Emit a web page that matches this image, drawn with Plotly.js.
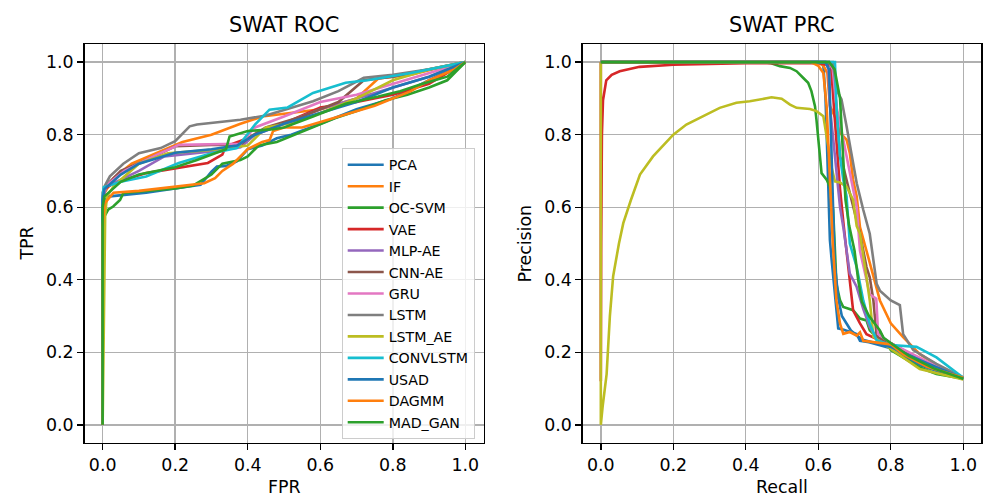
<!DOCTYPE html>
<html>
<head>
<meta charset="utf-8">
<script src="https://cdn.plot.ly/plotly-3.0.1.min.js"></script>
<style>html,body{margin:0;padding:0;background:#fff;}#chart{width:987px;height:497px;}</style>
</head>
<body>
<div id="chart"></div>
<script>
// ---------------- DATA ----------------
const methods = ['PCA','IF','OC-SVM','VAE','MLP-AE','CNN-AE','GRU','LSTM','LSTM_AE','CONVLSTM','USAD','DAGMM','MAD_GAN'];
const tickVals = [0, 0.2, 0.4, 0.6, 0.8, 1.0];
const tickText = ['0.0','0.2','0.4','0.6','0.8','1.0'];

// ROC: false positive rate / true positive rate
const fprPCA = [0,0,0.005,0.02,0.06,0.12,0.2,0.27,0.285,0.3,0.315,0.34,0.37,0.4,0.44,0.48,0.52,0.6,0.7,0.8,0.9,1];
const tprPCA = [0,0.6,0.62,0.63,0.634,0.64,0.652,0.662,0.68,0.698,0.712,0.714,0.726,0.76,0.77,0.79,0.8,0.83,0.87,0.9,0.95,1];
const fprIF = [0,0,0.005,0.03,0.08,0.15,0.22,0.3,0.38,0.44,0.52,0.6,0.7,0.76,0.85,0.93,1];
const tprIF = [0,0.6,0.64,0.68,0.72,0.75,0.78,0.8,0.83,0.85,0.86,0.87,0.9,0.955,0.965,0.985,1];
const fprOCSVM = [0,0,0.005,0.015,0.029,0.048,0.057,0.12,0.2,0.25,0.3,0.33,0.38,0.4,0.43,0.48,0.53,0.58,0.64,0.7,0.78,0.84,0.9,0.95,1];
const tprOCSVM = [0,0.52,0.575,0.593,0.602,0.62,0.639,0.645,0.652,0.66,0.69,0.72,0.73,0.74,0.77,0.78,0.8,0.82,0.845,0.865,0.895,0.91,0.93,0.95,1];
const fprVAE = [0,0,0.005,0.03,0.12,0.21,0.29,0.33,0.34,0.4,0.45,0.52,0.6,0.7,0.8,0.9,1];
const tprVAE = [0,0.62,0.65,0.666,0.694,0.708,0.722,0.745,0.768,0.79,0.814,0.84,0.875,0.89,0.91,0.94,1];
const fprMLPAE = [0,0,0.01,0.1,0.17,0.3,0.38,0.42,0.5,0.6,0.7,0.8,0.9,1];
const tprMLPAE = [0,0.62,0.657,0.7,0.74,0.754,0.765,0.8,0.83,0.87,0.9,0.93,0.96,1];
const fprCNNAE = [0,0,0.01,0.05,0.12,0.2,0.3,0.38,0.4,0.45,0.55,0.65,0.72,0.8,0.9,1];
const tprCNNAE = [0,0.63,0.66,0.7,0.73,0.768,0.772,0.772,0.79,0.82,0.85,0.89,0.95,0.96,0.98,1];
const fprGRU = [0,0,0.01,0.06,0.15,0.21,0.38,0.42,0.5,0.6,0.7,0.8,0.9,1];
const tprGRU = [0,0.63,0.66,0.7,0.745,0.772,0.775,0.82,0.85,0.89,0.91,0.94,0.97,1];
const fprLSTM = [0,0,0.005,0.02,0.057,0.1,0.16,0.2,0.24,0.26,0.38,0.45,0.58,0.65,0.72,0.8,0.9,1];
const tprLSTM = [0,0.64,0.657,0.685,0.72,0.749,0.763,0.782,0.823,0.828,0.841,0.853,0.892,0.92,0.957,0.965,0.98,1];
const fprLSTMAE = [0,0.007,0.012,0.03,0.05,0.1,0.18,0.3,0.4,0.45,0.52,0.6,0.7,0.8,0.9,1];
const tprLSTMAE = [0,0.58,0.63,0.657,0.676,0.72,0.749,0.758,0.77,0.82,0.832,0.86,0.9,0.95,0.98,1];
const fprCONVLSTM = [0,0,0.003,0.05,0.12,0.21,0.3,0.37,0.42,0.46,0.51,0.58,0.67,0.73,0.85,1];
const tprCONVLSTM = [0,0.63,0.655,0.67,0.685,0.722,0.749,0.763,0.828,0.869,0.875,0.915,0.943,0.95,0.97,1];
const fprUSAD = [0,0,0.005,0.05,0.1,0.2,0.3,0.37,0.42,0.5,0.6,0.7,0.8,0.9,1];
const tprUSAD = [0,0.62,0.65,0.69,0.72,0.75,0.76,0.77,0.8,0.83,0.86,0.89,0.93,0.96,1];
const fprDAGMM = [0,0,0.005,0.03,0.1,0.2,0.28,0.31,0.33,0.36,0.4,0.44,0.46,0.47,0.5,0.55,0.65,0.75,0.85,0.9,0.97,1];
const tprDAGMM = [0,0.546,0.61,0.64,0.645,0.657,0.666,0.68,0.7,0.72,0.76,0.78,0.785,0.81,0.82,0.82,0.85,0.88,0.92,0.95,0.98,1];
const fprMADGAN = [0,0,0.005,0.05,0.1,0.2,0.26,0.3,0.34,0.35,0.4,0.47,0.5,0.58,0.67,0.76,0.82,0.88,0.95,1];
const tprMADGAN = [0,0.6,0.63,0.67,0.69,0.71,0.73,0.745,0.76,0.795,0.81,0.815,0.82,0.85,0.885,0.905,0.92,0.94,0.96,1];

// PRC: recall / precision
const recPCA = [0,0.6,0.614,0.62,0.627,0.632,0.637,0.646,0.65,0.655,0.67,0.706,0.715,0.74,0.8,0.88,0.95,1];
const prePCA = [1,1,0.99,0.9,0.676,0.51,0.453,0.361,0.306,0.266,0.262,0.25,0.232,0.228,0.211,0.165,0.14,0.127];
const recIF = [0,0.6,0.614,0.625,0.632,0.65,0.66,0.678,0.687,0.696,0.706,0.715,0.733,0.752,0.77,0.8,0.834,0.88,0.95,1];
const preIF = [1,1,0.99,0.97,0.88,0.84,0.805,0.786,0.749,0.676,0.63,0.545,0.48,0.407,0.343,0.28,0.242,0.195,0.15,0.13];
const recOCSVM = [0,0.448,0.47,0.494,0.522,0.54,0.558,0.572,0.581,0.591,0.595,0.6,0.604,0.609,0.623,0.632,0.641,0.646,0.65,0.66,0.669,0.696,0.715,0.733,0.742,0.761,0.77,0.8,0.834,0.88,0.926,1];
const preOCSVM = [1,1,0.997,0.989,0.984,0.975,0.957,0.943,0.92,0.878,0.841,0.786,0.731,0.694,0.676,0.657,0.593,0.49,0.389,0.343,0.325,0.316,0.293,0.288,0.261,0.242,0.256,0.206,0.186,0.158,0.14,0.127];
const recVAE = [0,0,0.001,0.003,0.006,0.015,0.03,0.052,0.107,0.2,0.4,0.6,0.635,0.645,0.65,0.66,0.67,0.678,0.687,0.696,0.715,0.733,0.76,0.8,0.88,1];
const preVAE = [1,0.12,0.5,0.8,0.895,0.95,0.965,0.975,0.987,0.993,0.997,0.998,0.99,0.85,0.786,0.65,0.55,0.48,0.389,0.316,0.28,0.25,0.237,0.22,0.18,0.13];
const recMLPAE = [0,0.62,0.628,0.632,0.64,0.65,0.66,0.669,0.687,0.706,0.724,0.742,0.76,0.8,0.88,1];
const preMLPAE = [1,1,0.98,0.878,0.8,0.7,0.6,0.545,0.417,0.38,0.32,0.269,0.24,0.225,0.18,0.13];
const recCNNAE = [0,0.63,0.641,0.65,0.66,0.669,0.678,0.696,0.715,0.733,0.742,0.752,0.761,0.8,0.9,1];
const preCNNAE = [1,1,0.98,0.878,0.74,0.712,0.675,0.6,0.527,0.435,0.407,0.343,0.243,0.225,0.17,0.13];
const recGRU = [0,0.63,0.64,0.65,0.669,0.687,0.706,0.715,0.742,0.76,0.765,0.8,0.9,1];
const preGRU = [1,1,0.98,0.878,0.786,0.7,0.6,0.48,0.36,0.348,0.25,0.225,0.175,0.13];
const recLSTM = [0,0.64,0.65,0.664,0.678,0.692,0.706,0.724,0.742,0.761,0.77,0.8,0.825,0.834,0.862,0.926,1];
const preLSTM = [1,1,0.924,0.897,0.823,0.749,0.666,0.593,0.527,0.389,0.37,0.343,0.33,0.25,0.206,0.168,0.13];
const recLSTMAE = [0,0,0.005,0.016,0.025,0.034,0.05,0.062,0.083,0.108,0.144,0.2,0.236,0.282,0.328,0.374,0.411,0.471,0.499,0.522,0.54,0.577,0.595,0.614,0.623,0.637,0.646,0.66,0.678,0.696,0.706,0.715,0.733,0.742,0.752,0.8,0.88,1];
const preLSTMAE = [1,0,0.05,0.14,0.3,0.41,0.5,0.556,0.62,0.69,0.74,0.8,0.828,0.851,0.874,0.888,0.892,0.903,0.899,0.883,0.874,0.871,0.865,0.851,0.795,0.708,0.671,0.668,0.657,0.62,0.548,0.527,0.407,0.343,0.243,0.21,0.154,0.125];
const recCONVLSTM = [0,0.646,0.65,0.66,0.669,0.678,0.687,0.706,0.724,0.742,0.761,0.8,0.871,0.926,1];
const preCONVLSTM = [1,1,0.878,0.74,0.676,0.63,0.5,0.435,0.343,0.279,0.233,0.22,0.215,0.186,0.13];
const recUSAD = [0,0.62,0.63,0.635,0.64,0.645,0.655,0.665,0.69,0.72,0.8,0.9,1];
const preUSAD = [1,1,0.98,0.8,0.6,0.45,0.35,0.3,0.26,0.235,0.215,0.17,0.128];
const recDAGMM = [0,0.58,0.6,0.614,0.623,0.627,0.632,0.64,0.65,0.66,0.669,0.687,0.706,0.715,0.724,0.8,0.834,0.9,1];
const preDAGMM = [1,1,0.99,0.97,0.878,0.786,0.66,0.5,0.343,0.279,0.251,0.256,0.246,0.255,0.232,0.222,0.195,0.16,0.13];
const recMADGAN = [0,0.63,0.645,0.66,0.668,0.675,0.685,0.7,0.71,0.72,0.74,0.77,0.78,0.8,0.85,0.92,1];
const preMADGAN = [1,1,0.98,0.9,0.75,0.62,0.55,0.48,0.4,0.34,0.3,0.26,0.24,0.225,0.19,0.155,0.127];

const rocX = [fprPCA,fprIF,fprOCSVM,fprVAE,fprMLPAE,fprCNNAE,fprGRU,fprLSTM,fprLSTMAE,fprCONVLSTM,fprUSAD,fprDAGMM,fprMADGAN];
const rocY = [tprPCA,tprIF,tprOCSVM,tprVAE,tprMLPAE,tprCNNAE,tprGRU,tprLSTM,tprLSTMAE,tprCONVLSTM,tprUSAD,tprDAGMM,tprMADGAN];
const prcX = [recPCA,recIF,recOCSVM,recVAE,recMLPAE,recCNNAE,recGRU,recLSTM,recLSTMAE,recCONVLSTM,recUSAD,recDAGMM,recMADGAN];
const prcY = [prePCA,preIF,preOCSVM,preVAE,preMLPAE,preCNNAE,preGRU,preLSTM,preLSTMAE,preCONVLSTM,preUSAD,preDAGMM,preMADGAN];

// ---------------- STYLE ----------------
const palette = ['#1f77b4','#ff7f0e','#2ca02c','#d62728','#9467bd','#8c564b','#e377c2','#7f7f7f','#bcbd22','#17becf'];
const W = 987, H = 497;
const FONT = 'DejaVu Sans, Liberation Sans, sans-serif';
const LW = 2.6;

const traces = [];
methods.forEach((m, i) => {
  traces.push({x: rocX[i], y: rocY[i], type: 'scatter', mode: 'lines', name: m,
    line: {color: palette[i % 10], width: LW}, xaxis: 'x', yaxis: 'y', legendgroup: m});
});
methods.forEach((m, i) => {
  traces.push({x: prcX[i], y: prcY[i], type: 'scatter', mode: 'lines', name: m, showlegend: false,
    line: {color: palette[i % 10], width: LW}, xaxis: 'x2', yaxis: 'y2', legendgroup: m});
});

const yDom = [1 - 443/H, 1 - 44/H];
function ax(domain, anchor) {
  return {
    domain: domain, anchor: anchor, range: [-0.05, 1.05],
    tickvals: tickVals, ticktext: tickText,
    showgrid: true, gridcolor: '#b0b0b0', gridwidth: 1.4,
    zeroline: false, showline: true, linecolor: '#000', linewidth: 1.4, mirror: true,
    ticks: 'outside', ticklen: 6, tickwidth: 1.4, tickcolor: '#000',
    tickfont: {family: FONT, size: 17.4, color: '#000'}, fixedrange: true
  };
}
const layout = {
  width: W, height: H, margin: {l: 0, r: 0, t: 0, b: 0},
  paper_bgcolor: '#fff', plot_bgcolor: '#fff',
  xaxis: ax([84.5/W, 483.5/W], 'y'),
  yaxis: ax(yDom, 'x'),
  xaxis2: ax([582.7/W, 981.4/W], 'y2'),
  yaxis2: ax(yDom, 'x2'),
  showlegend: true,
  legend: {x: 341.7/W, y: 1 - 148/H, xanchor: 'left', yanchor: 'top', itemwidth: 36,
    bgcolor: 'rgba(255,255,255,0.8)', bordercolor: '#cccccc', borderwidth: 1,
    font: {family: FONT, size: 14.2, color: '#000'}, tracegroupgap: 0},
  annotations: [
    {text: 'SWAT ROC', x: (84.5+483.5)/2/W, y: 1 - 25/H, xref: 'paper', yref: 'paper', showarrow: false, xanchor: 'center', yanchor: 'middle', font: {family: FONT, size: 20.9, color: '#000'}},
    {text: 'SWAT PRC', x: (582.7+981.4)/2/W, y: 1 - 25/H, xref: 'paper', yref: 'paper', showarrow: false, xanchor: 'center', yanchor: 'middle', font: {family: FONT, size: 20.9, color: '#000'}},
    {text: 'FPR', x: (84.5+483.5)/2/W, y: 1 - 487/H, xref: 'paper', yref: 'paper', showarrow: false, xanchor: 'center', yanchor: 'middle', font: {family: FONT, size: 17.4, color: '#000'}},
    {text: 'Recall', x: (582.7+981.4)/2/W, y: 1 - 487/H, xref: 'paper', yref: 'paper', showarrow: false, xanchor: 'center', yanchor: 'middle', font: {family: FONT, size: 17.4, color: '#000'}},
    {text: 'TPR', x: 26/W, y: 1 - 243.5/H, xref: 'paper', yref: 'paper', showarrow: false, textangle: -90, xanchor: 'center', yanchor: 'middle', font: {family: FONT, size: 17.4, color: '#000'}},
    {text: 'Precision', x: 524/W, y: 1 - 243.5/H, xref: 'paper', yref: 'paper', showarrow: false, textangle: -90, xanchor: 'center', yanchor: 'middle', font: {family: FONT, size: 17.4, color: '#000'}}
  ]
};
Plotly.newPlot('chart', traces, layout, {displayModeBar: false, staticPlot: true});
</script>
</body>
</html>
